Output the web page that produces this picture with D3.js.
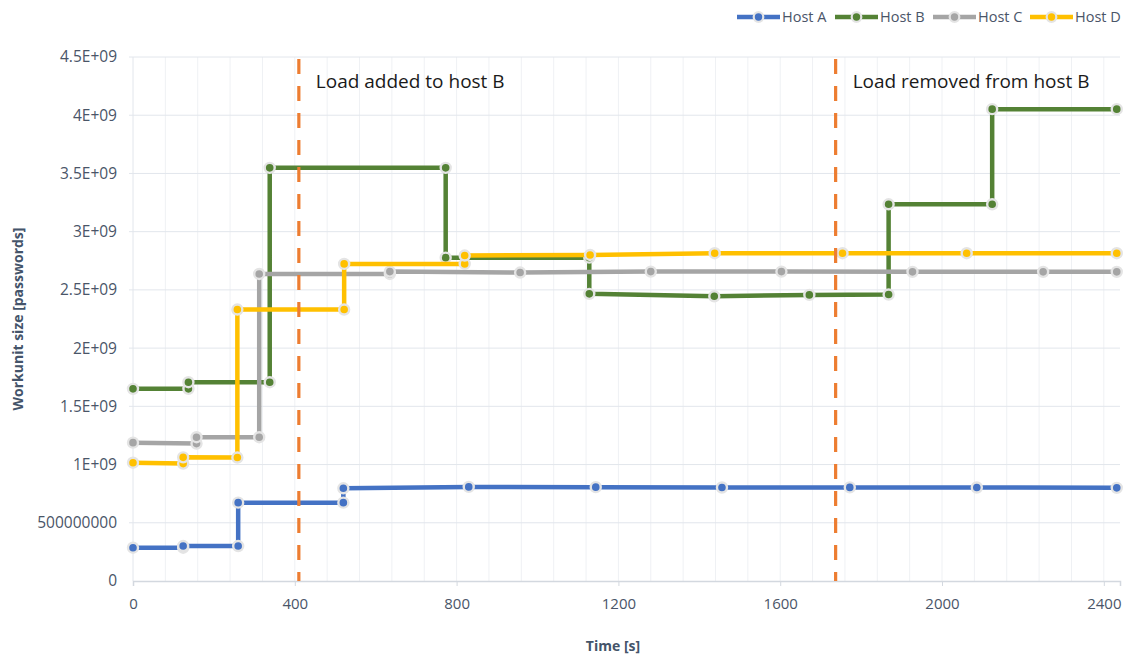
<!DOCTYPE html>
<html>
<head>
<meta charset="utf-8">
<script src="https://cdn.jsdelivr.net/npm/d3@7"></script>
<style>
  html, body { margin: 0; padding: 0; background: #ffffff; }
  svg { display: block; }
  text { font-family: "Open Sans", "Noto Sans", sans-serif; }
</style>
</head>
<body>
<svg id="chart" width="1132" height="657"></svg>
<script>
// Workunit size per host over time (explicit step points)
const hostATime  = [0, 124, 124, 260, 260, 520, 520, 830, 1144, 1456, 1772, 2086, 2432];
const hostAValue = [2.86e8, 2.86e8, 3.0e8, 3.0e8, 6.73e8, 6.73e8, 7.96e8, 8.08e8, 8.06e8, 8.03e8, 8.04e8, 8.03e8, 8.0e8];

const hostBTime  = [0, 137, 137, 338, 338, 773, 773, 1128, 1128, 1437, 1672, 1868, 1868, 2124, 2124, 2432];
const hostBValue = [1.65e9, 1.65e9, 1.707e9, 1.707e9, 3.548e9, 3.548e9, 2.777e9, 2.777e9, 2.466e9, 2.445e9, 2.457e9, 2.46e9, 3.235e9, 3.235e9, 4.052e9, 4.052e9];

const hostCTime  = [0, 157, 157, 312, 312, 635, 635, 957, 1280, 1603, 1927, 2250, 2432];
const hostCValue = [1.188e9, 1.18e9, 1.235e9, 1.235e9, 2.637e9, 2.637e9, 2.657e9, 2.649e9, 2.657e9, 2.657e9, 2.655e9, 2.655e9, 2.655e9];

const hostDTime  = [0, 124, 124, 258, 258, 522, 522, 820, 820, 1130, 1438, 1754, 2061, 2432];
const hostDValue = [1.016e9, 1.008e9, 1.062e9, 1.06e9, 2.331e9, 2.331e9, 2.723e9, 2.723e9, 2.795e9, 2.8e9, 2.815e9, 2.815e9, 2.815e9, 2.815e9];

const seriesNames  = ["Host A", "Host B", "Host C", "Host D"];
const seriesColors = ["#4472C4", "#548235", "#A5A5A5", "#FFC000"];

// Load events (seconds)
const eventTimes  = [410, 1737];
const eventLabels = ["Load added to host B", "Load removed from host B"];

const xTicks = [0, 400, 800, 1200, 1600, 2000, 2400];
const yTicks = [0, 5e8, 1e9, 1.5e9, 2e9, 2.5e9, 3e9, 3.5e9, 4e9, 4.5e9];
const yTickLabels = ["0", "500000000", "1E+09", "1.5E+09", "2E+09", "2.5E+09", "3E+09", "3.5E+09", "4E+09", "4.5E+09"];

const series = [
  { t: hostATime, v: hostAValue },
  { t: hostBTime, v: hostBValue },
  { t: hostCTime, v: hostCValue },
  { t: hostDTime, v: hostDValue }
].map((s, i) => ({
  name: seriesNames[i],
  color: seriesColors[i],
  points: s.t.map((t, j) => ({ t, v: s.v[j] }))
}));

const svg = d3.select("#chart");
const x = d3.scaleLinear().domain([0, 2440]).range([133, 1120]);
const y = d3.scaleLinear().domain([0, 4.5e9]).range([581, 57]);

const labelColor = "#4a5568";

// Minor vertical gridlines every 80 s
svg.append("g").selectAll("line")
  .data(d3.range(80, 2440, 80))
  .join("line")
  .attr("x1", d => x(d)).attr("x2", d => x(d))
  .attr("y1", y(4.5e9)).attr("y2", y(0))
  .attr("stroke", "#eff1f4").attr("stroke-width", 1);

// Horizontal gridlines
svg.append("g").selectAll("line")
  .data(yTicks.slice(1))
  .join("line")
  .attr("x1", x(0) - 4).attr("x2", x.range()[1])
  .attr("y1", d => y(d)).attr("y2", d => y(d))
  .attr("stroke", "#e2e6ec").attr("stroke-width", 1);

// Y axis line
svg.append("line")
  .attr("x1", x(0)).attr("x2", x(0))
  .attr("y1", y(4.5e9)).attr("y2", y(0))
  .attr("stroke", "#e2e6ec").attr("stroke-width", 1);

// X axis with major ticks
const xAxis = svg.append("g")
  .attr("transform", `translate(0,${y(0)})`)
  .call(d3.axisBottom(x).tickValues(xTicks).tickSize(5).tickFormat(d3.format("d")));
xAxis.select(".domain").attr("stroke", "#d3d8df").attr("stroke-width", 1.5);
xAxis.selectAll(".tick line").attr("stroke", "#d3d8df");
xAxis.selectAll(".tick text")
  .attr("y", 17).attr("dy", "0.71em")
  .attr("fill", labelColor)
  .style("font-size", "15px")
  .style("font-family", "'Open Sans', sans-serif");

// Y axis labels
const yAxis = svg.append("g")
  .attr("transform", `translate(${x(0)},0)`)
  .call(d3.axisLeft(y).tickValues(yTicks).tickSize(0).tickPadding(16)
    .tickFormat((d, i) => yTickLabels[i]));
yAxis.select(".domain").remove();
yAxis.selectAll(".tick text")
  .attr("fill", labelColor)
  .style("font-size", "15.5px")
  .style("font-family", "'Open Sans', sans-serif");

// Series: step lines with markers
const line = d3.line().x(d => x(d.t)).y(d => y(d.v));
series.forEach(s => {
  const g = svg.append("g");
  g.append("path")
    .datum(s.points)
    .attr("d", line)
    .attr("fill", "none")
    .attr("stroke", s.color)
    .attr("stroke-width", 4.5)
    .attr("stroke-linejoin", "round");
  g.selectAll("circle")
    .data(s.points)
    .join("circle")
    .attr("cx", d => x(d.t))
    .attr("cy", d => y(d.v))
    .attr("r", 5)
    .attr("fill", s.color)
    .attr("stroke", "#e4e4e4")
    .attr("stroke-width", 2.4);
});

// Load event markers
svg.append("g").selectAll("line")
  .data(eventTimes)
  .join("line")
  .attr("x1", d => x(d)).attr("x2", d => x(d))
  .attr("y1", y(4.5e9) + 2).attr("y2", y(0))
  .attr("stroke", "#ED7D31").attr("stroke-width", 3.2)
  .attr("stroke-dasharray", "15,12");

svg.append("g").selectAll("text")
  .data(eventTimes)
  .join("text")
  .attr("x", d => x(d) + 17)
  .attr("y", 88)
  .attr("fill", "#1a1a1a")
  .style("font-size", "19px")
  .text((d, i) => eventLabels[i]);

// Axis titles
svg.append("text")
  .attr("transform", `translate(23,${(y(0) + y(4.5e9)) / 2}) rotate(-90)`)
  .attr("text-anchor", "middle")
  .attr("fill", "#44546A")
  .style("font-size", "14px")
  .style("font-weight", "bold")
  .text("Workunit size [passwords]");

svg.append("text")
  .attr("x", 613).attr("y", 651)
  .attr("text-anchor", "middle")
  .attr("fill", "#44546A")
  .style("font-size", "14px")
  .style("font-weight", "bold")
  .text("Time [s]");

// Legend
const legendX = [737, 835, 933, 1030];
const legend = svg.append("g").selectAll("g")
  .data(series)
  .join("g")
  .attr("transform", (d, i) => `translate(${legendX[i]},17)`);
legend.append("line")
  .attr("x1", 0).attr("x2", 43).attr("y1", 0).attr("y2", 0)
  .attr("stroke", d => d.color).attr("stroke-width", 4.5);
legend.append("circle")
  .attr("cx", 21.5).attr("cy", 0).attr("r", 4.8)
  .attr("fill", d => d.color)
  .attr("stroke", "#e4e4e4").attr("stroke-width", 2.2);
legend.append("text")
  .attr("x", 45).attr("y", 0).attr("dy", "0.35em")
  .attr("fill", labelColor)
  .style("font-size", "14.5px")
  .text(d => d.name);
</script>
</body>
</html>
